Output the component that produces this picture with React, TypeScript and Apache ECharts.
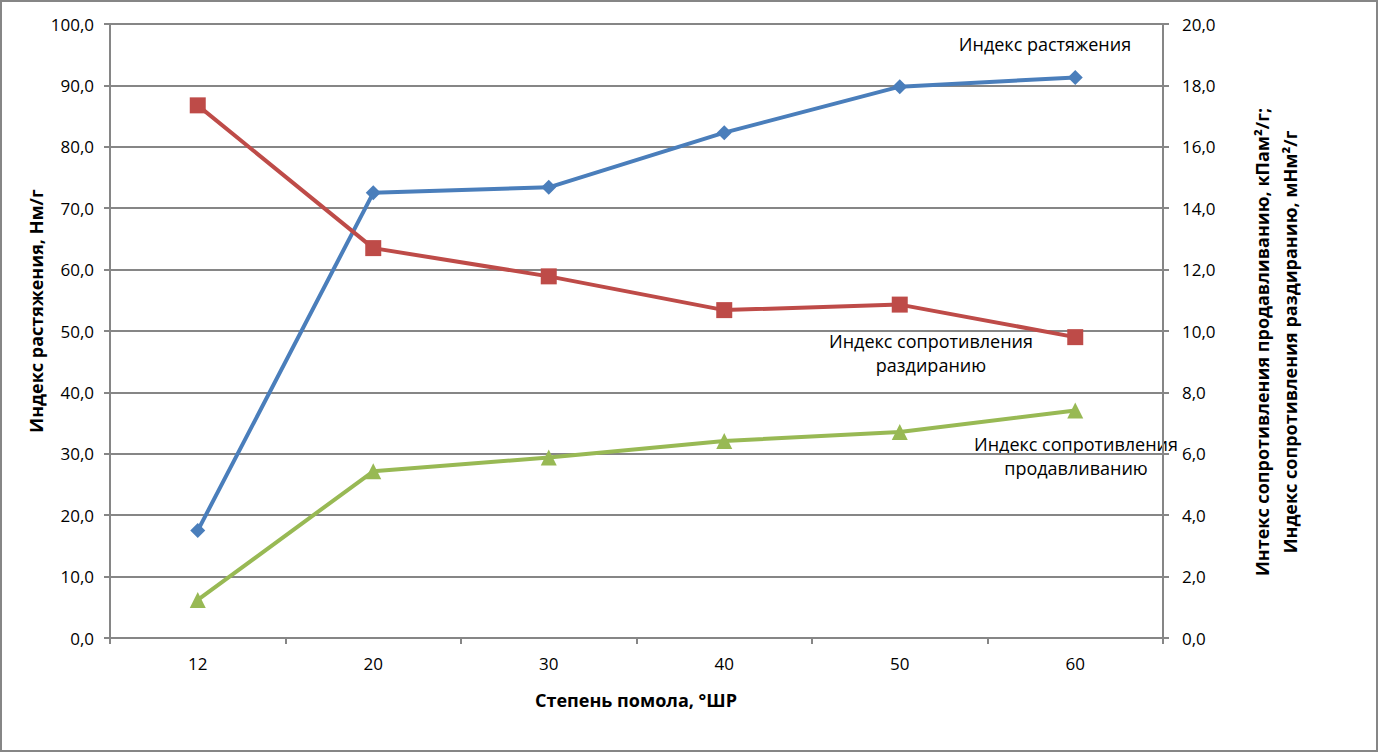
import React, { useEffect, useRef } from "react";
import * as echarts from "echarts";

const categories = ["12", "20", "30", "40", "50", "60"];
const tensileIndex = [17.5, 72.5, 73.4, 82.3, 89.8, 91.3];
const tearIndex = [17.35, 12.7, 11.78, 10.68, 10.86, 9.8];
const burstIndex = [1.24, 5.43, 5.88, 6.42, 6.71, 7.41];

const leftTitle = "Индекс растяжения, Нм/г";
const rightTitle1 = "Интекс сопротивления продавливанию, кПам²/г;";
const rightTitle2 = "Индекс сопротивления раздиранию, мНм²/г";
const xTitle = "Степень помола, °ШР";
const label1 = "Индекс растяжения";
const label2 = "Индекс сопротивления\nраздиранию";
const label3 = "Индекс сопротивления\nпродавливанию";

const FONT = "Open Sans";
const GRAY = "#868686";
const fmt = (v: number) => v.toFixed(1).replace(".", ",");

export default function App() {
  const ref = useRef<HTMLDivElement>(null);
  useEffect(() => {
    document.body.style.margin = "0";
    const chart = echarts.init(ref.current!, null, { renderer: "svg" });
    const axisCommon = {
      axisLine: { show: true, lineStyle: { color: GRAY, width: 2 } },
      axisTick: { show: true, inside: false, length: 6, lineStyle: { color: GRAY, width: 2 } },
      axisLabel: { color: "#000", fontFamily: FONT, fontSize: 17, formatter: fmt },
    };
    chart.setOption({
      animation: false,
      backgroundColor: "#fff",
      grid: { left: 110, right: 215, top: 24, bottom: 114, containLabel: false },
      xAxis: {
        type: "category",
        data: categories,
        boundaryGap: true,
        axisLine: { show: true, lineStyle: { color: GRAY, width: 2 } },
        axisTick: { show: true, interval: 0, length: 6, lineStyle: { color: GRAY, width: 2 } },
        axisLabel: { color: "#000", fontFamily: FONT, fontSize: 17, margin: 17 },
      },
      yAxis: [
        {
          type: "value",
          min: 0,
          max: 100,
          interval: 10,
          position: "left",
          ...axisCommon,
          axisLabel: { ...axisCommon.axisLabel, margin: 16 },
          splitLine: { show: true, lineStyle: { color: GRAY, width: 2 } },
        },
        {
          type: "value",
          min: 0,
          max: 20,
          interval: 2,
          position: "right",
          ...axisCommon,
          axisLabel: { ...axisCommon.axisLabel, margin: 19 },
          splitLine: { show: false },
        },
      ],
      series: [
        {
          name: label1,
          type: "line",
          yAxisIndex: 0,
          data: tensileIndex,
          symbol: "diamond",
          symbolSize: 15,
          lineStyle: { color: "#4a7ebb", width: 4 },
          itemStyle: { color: "#4a7ebb" },
        },
        {
          name: "tear",
          type: "line",
          yAxisIndex: 1,
          data: tearIndex,
          symbol: "rect",
          symbolSize: 16,
          lineStyle: { color: "#be4b48", width: 4 },
          itemStyle: { color: "#be4b48" },
        },
        {
          name: "burst",
          type: "line",
          yAxisIndex: 1,
          data: burstIndex,
          symbol: "triangle",
          symbolSize: 16,
          lineStyle: { color: "#98b954", width: 4 },
          itemStyle: { color: "#98b954" },
        },
      ],
      graphic: [
        {
          type: "rect",
          shape: { x: 1, y: 1, width: 1376, height: 750 },
          style: { fill: "none", stroke: GRAY, lineWidth: 2 },
          silent: true,
        },
        {
          type: "text",
          x: 36,
          y: 311,
          rotation: Math.PI / 2,
          style: { text: leftTitle, fontFamily: FONT, fontSize: 18, fontWeight: "bold", fill: "#000", align: "center", verticalAlign: "middle" },
        },
        {
          type: "text",
          x: 1262,
          y: 342,
          rotation: Math.PI / 2,
          style: { text: rightTitle1, fontFamily: FONT, fontSize: 18, fontWeight: "bold", fill: "#000", align: "center", verticalAlign: "middle" },
        },
        {
          type: "text",
          x: 1290,
          y: 342,
          rotation: Math.PI / 2,
          style: { text: rightTitle2, fontFamily: FONT, fontSize: 18, fontWeight: "bold", fill: "#000", align: "center", verticalAlign: "middle" },
        },
        {
          type: "text",
          x: 636,
          y: 700,
          style: { text: xTitle, fontFamily: FONT, fontSize: 18, fontWeight: "bold", fill: "#000", align: "center", verticalAlign: "middle" },
        },
        {
          type: "text",
          x: 1045,
          y: 44,
          style: { text: label1, fontFamily: FONT, fontSize: 18, fill: "#000", align: "center", verticalAlign: "middle" },
        },
        {
          type: "text",
          x: 931,
          y: 353,
          style: { text: label2, fontFamily: FONT, fontSize: 18, lineHeight: 24, fill: "#000", align: "center", verticalAlign: "middle" },
        },
        {
          type: "text",
          x: 1076,
          y: 456,
          style: { text: label3, fontFamily: FONT, fontSize: 18, lineHeight: 24, fill: "#000", align: "center", verticalAlign: "middle" },
        },
      ],
    });
    return () => chart.dispose();
  }, []);
  return <div ref={ref} style={{ width: 1378, height: 752 }} />;
}
